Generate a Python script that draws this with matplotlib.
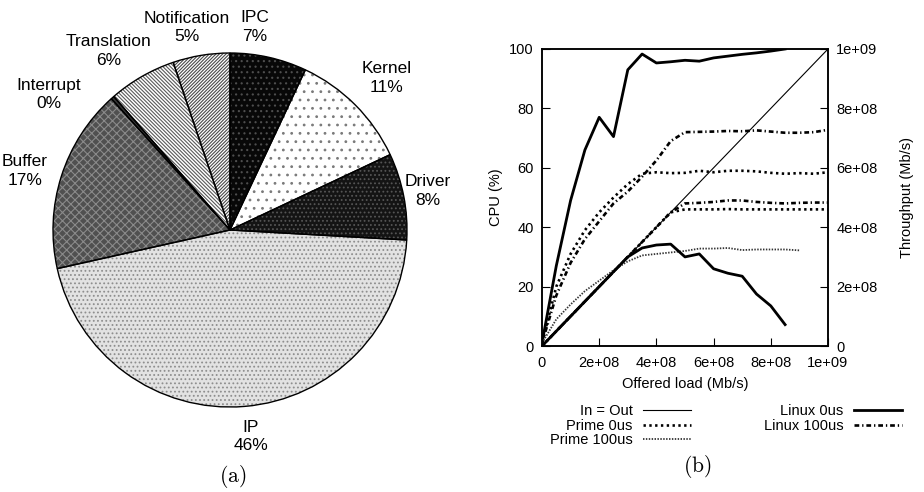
import numpy as np
import matplotlib
matplotlib.use("Agg")
import matplotlib.pyplot as plt

plt.rcParams['font.family'] = ['Liberation Sans', 'DejaVu Sans']
plt.rcParams['hatch.linewidth'] = 0.8

# -----------------------------
# Data: (a) pie of processing time
# -----------------------------
pie_labels = ['IPC', 'Kernel', 'Driver', 'IP', 'Buffer', 'Interrupt', 'Translation', 'Notification']
pie_values = [7.0, 11.0, 7.9, 45.6, 16.8, 0.3, 6.2, 5.2]
pie_pct_text = ['7%', '11%', '8%', '46%', '17%', '0%', '6%', '5%']

# -----------------------------
# Data: (b) offered load vs CPU / throughput (load and throughput in units of 1e8 b/s)
# -----------------------------
load_full = [0, 0.5, 1.0, 1.5, 2.0, 2.5, 3.0, 3.5, 4.0, 4.5, 5.0,
             5.5, 6.0, 6.5, 7.0, 7.5, 8.0, 8.5, 9.0, 9.5, 10.0]
load_85 = [0, 0.5, 1.0, 1.5, 2.0, 2.5, 3.0, 3.5, 4.0, 4.5, 5.0,
           5.5, 6.0, 6.5, 7.0, 7.5, 8.0, 8.5]
load_90 = [0, 0.5, 1.0, 1.5, 2.0, 2.5, 3.0, 3.5, 4.0, 4.5, 5.0,
           5.5, 6.0, 6.5, 7.0, 7.5, 8.0, 8.5, 9.0]

in_out_load = [0, 10.0]
in_out_tput = [0, 10.0]

linux0_cpu = [1, 27, 49, 66, 77, 70.5, 93, 98.3, 95.3, 95.7, 96.2,
              95.9, 97.0, 97.6, 98.2, 98.7, 99.3, 100]
linux0_tput = [0, 0.5, 1.0, 1.5, 2.0, 2.5, 3.0, 3.3, 3.4, 3.43, 3.0,
               3.1, 2.6, 2.45, 2.35, 1.75, 1.35, 0.72]

linux100_cpu = [1, 17, 28, 36, 42, 48, 52, 57, 62.5, 69, 72,
                72.1, 72.2, 72.4, 72.3, 72.6, 72.2, 71.8, 71.8, 72.0, 72.8]
linux100_tput = [0, 0.5, 1.0, 1.5, 2.0, 2.5, 3.0, 3.5, 4.0, 4.5, 4.8,
                 4.82, 4.85, 4.9, 4.9, 4.85, 4.82, 4.8, 4.82, 4.83, 4.83]

prime0_cpu = [1, 20, 31, 39, 45, 50, 54.5, 58, 58.5, 58.2, 58.3,
              59.0, 58.5, 59.0, 59.0, 58.8, 58.3, 58.0, 58.2, 58.0, 58.5]
prime0_tput = [0, 0.5, 1.0, 1.5, 2.0, 2.5, 3.0, 3.5, 4.0, 4.5, 4.6,
               4.6, 4.6, 4.61, 4.6, 4.6, 4.6, 4.6, 4.6, 4.6, 4.6]

prime100_cpu = [1, 9, 14, 18.5, 22, 25.5, 28.5, 30.5, 31, 31.5, 32,
                32.8, 32.8, 33, 32.3, 32.5, 32.5, 32.5, 32.2]

x_ticks = [0, 2e8, 4e8, 6e8, 8e8, 1e9]
x_tick_labels = ['0', '2e+08', '4e+08', '6e+08', '8e+08', '1e+09']
cpu_ticks = [0, 20, 40, 60, 80, 100]
tput_ticks = [0, 2e8, 4e8, 6e8, 8e8, 1e9]
tput_tick_labels = ['0', '2e+08', '4e+08', '6e+08', '8e+08', '1e+09']

fig = plt.figure(figsize=(9.24, 4.92), dpi=100)

# -----------------------------
# (a) pie
# -----------------------------
ax_pie = fig.add_axes([53 / 924, 85 / 492, 354 / 924, 354 / 492])

fills = ['#080808', 'white', '#141414', '#e2e2e2', '#505050', '#333333', 'white', 'white']
hatch_cols = ['#4e4e4e', '#7a7a7a', '#555555', '#8e8e8e', '#8a8a8a', '#333333', '#5a5a5a', '#4a4a4a']
hatches = ['...', '..', '....', '....', 'xxxx', None, '\\' * 9, '/' * 10]

wedges, _ = ax_pie.pie(pie_values, startangle=90, counterclock=False)
for w, fc, hc, h in zip(wedges, fills, hatch_cols, hatches):
    w.set_facecolor(fc)
    w.set_edgecolor(hc)
    w.set_hatch(h)
    w.set_linewidth(0)

# outlines on top
outl, _ = ax_pie.pie(pie_values, startangle=90, counterclock=False,
                     wedgeprops=dict(facecolor='none', edgecolor='black', linewidth=1.0))

label_dist = [1.155, 1.235, 1.14, 1.173, 1.207, 1.277, 1.22, 1.171]
label_nudge = [5.6, -0.9, 0.1, 1.0, 1.6, 11.6, 4.2, 2.7]
for w, name, pct, d, nd in zip(wedges, pie_labels, pie_pct_text, label_dist, label_nudge):
    ang = np.deg2rad((w.theta1 + w.theta2) / 2 + nd)
    ax_pie.text(d * np.cos(ang), d * np.sin(ang), f"{name}\n{pct}",
                ha='center', va='center', fontsize=12.5, linespacing=1.3)

ax_pie.set_xlim(-1, 1)
ax_pie.set_ylim(-1, 1)
ax_pie.set_aspect('equal')
ax_pie.axis('off')

fig.text(233 / 924, 1 - 477 / 492, r'$\mathrm{(a)}$', math_fontfamily='cm',
         ha='center', va='center', fontsize=15.5)

# -----------------------------
# (b) CPU / throughput vs offered load
# -----------------------------
ax = fig.add_axes([542 / 924, 146 / 492, 286 / 924, 297 / 492])
ax2 = ax.twinx()

x_full = np.array(load_full) * 1e8
x_85 = np.array(load_85) * 1e8
x_90 = np.array(load_90) * 1e8

h_io, = ax2.plot(np.array(in_out_load) * 1e8, np.array(in_out_tput) * 1e8,
                 color='black', lw=0.8, label='In = Out')

dashdot = (0, (1.8, 1.1, 0.5, 1.1))
dotted = (0, (0.9, 1.3))
fine = (0, (0.8, 0.8))

h_l0, = ax.plot(x_85, linux0_cpu, color='black', lw=2.0, ls='-', label='Linux 0us')
ax2.plot(x_85, np.array(linux0_tput) * 1e8, color='black', lw=2.0, ls='-')

h_l100, = ax.plot(x_full, linux100_cpu, color='black', lw=1.9, ls=dashdot, label='Linux 100us')
ax2.plot(x_full, np.array(linux100_tput) * 1e8, color='black', lw=1.9, ls=dashdot)

h_p0, = ax.plot(x_full, prime0_cpu, color='black', lw=1.9, ls=dotted, label='Prime 0us')
ax2.plot(x_full, np.array(prime0_tput) * 1e8, color='black', lw=1.9, ls=dotted)

h_p100, = ax.plot(x_90, prime100_cpu, color='#333333', lw=1.3, ls=fine, label='Prime 100us')

ax.set_xlim(0, 1e9)
ax.set_ylim(0, 100)
ax2.set_ylim(0, 1e9)
ax.set_xticks(x_ticks)
ax.set_xticklabels(x_tick_labels)
ax.set_yticks(cpu_ticks)
ax2.set_yticks(tput_ticks)
ax2.set_yticklabels(tput_tick_labels)

ax.tick_params(axis='both', direction='in', length=6, width=0.8, labelsize=10.5, pad=6)
ax.tick_params(axis='x', top=False, pad=7)
ax2.tick_params(axis='y', direction='in', length=6, width=0.8, labelsize=10.5, pad=6)
for a in (ax, ax2):
    for s in a.spines.values():
        s.set_linewidth(1.1)

ax.set_xlabel('Offered load (Mb/s)', fontsize=10.5, labelpad=5)
ax.set_ylabel('CPU (%)', fontsize=10.5, labelpad=4)
ax2.set_ylabel('Throughput (Mb/s)', fontsize=10.5, labelpad=16)

fig.legend([h_io, h_p0, h_p100, h_l0, h_l100],
           ['In = Out', 'Prime 0us', 'Prime 100us', 'Linux 0us', 'Linux 100us'],
           ncol=2, markerfirst=False, frameon=False, fontsize=10.5,
           loc='upper right', bbox_to_anchor=(902 / 924, 1 - 404 / 492),
           handlelength=3.3, handletextpad=0.7, columnspacing=5.0,
           labelspacing=0.05, borderpad=0, borderaxespad=0)

fig.text(697 / 924, 1 - 467 / 492, r'$\mathrm{(b)}$', math_fontfamily='cm',
         ha='center', va='center', fontsize=15.5)

plt.savefig("out.png", dpi=100)
